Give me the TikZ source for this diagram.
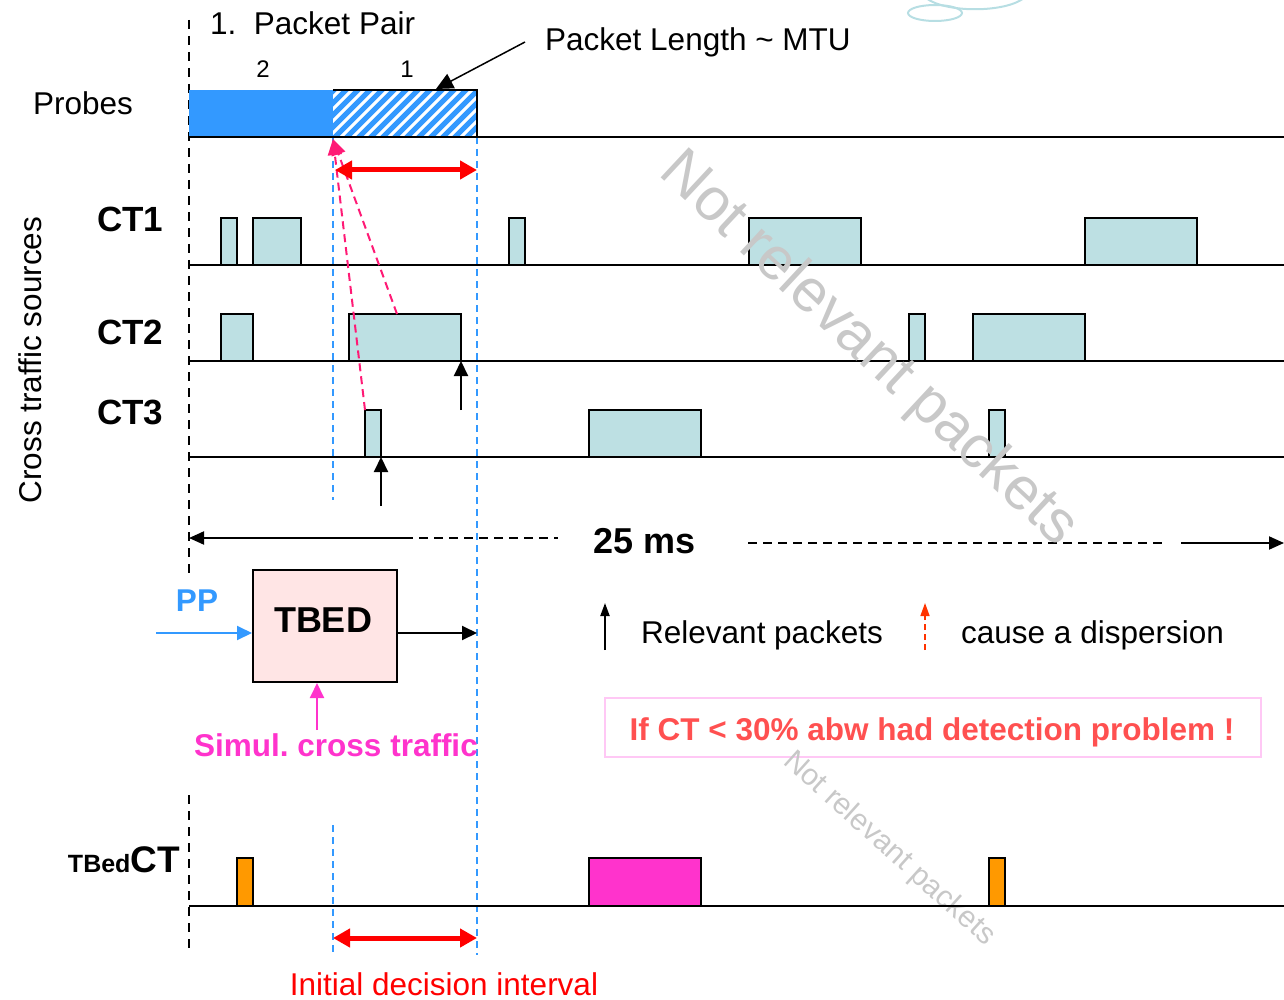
\documentclass[tikz,border=0pt]{standalone}
\usepackage{fontspec}
\setmainfont{Liberation Sans}
\usetikzlibrary{arrows.meta}
\frenchspacing

\definecolor{probeblue}{HTML}{3399FF}
\definecolor{ctfill}{HTML}{BDE0E3}
\definecolor{hotpink}{HTML}{FF1A75}
\definecolor{simul}{HTML}{FF33CC}
\definecolor{ctorange}{HTML}{FF9900}
\definecolor{tbedfill}{HTML}{FFE5E5}
\definecolor{warnred}{HTML}{FF5050}
\definecolor{warnbox}{HTML}{FFC8F5}
\definecolor{cloudline}{HTML}{B7DEE3}
\definecolor{disp}{HTML}{FF3300}
\definecolor{wmgray}{HTML}{C8C8C8}

\newcommand{\fsz}[1]{\fontsize{#1}{#1}\selectfont}

\begin{document}
\begin{tikzpicture}[x=1pt,y=-1pt,
  txt/.style={inner sep=0pt,font=\fsz{31.5}},
  boldtxt/.style={inner sep=0pt,font=\fsz{31.5}\bfseries},
  timeline/.style={draw=black,line width=2pt},
  pkt/.style={draw=black,line width=2pt,fill=ctfill},
  tbpkt/.style={draw=black,line width=2pt},
  origin/.style={draw=black,line width=2pt,dash pattern=on 9pt off 7pt},
  marker/.style={draw=probeblue,line width=2pt,dash pattern=on 7pt off 5pt},
  relarrow/.style={draw=black,line width=2pt,-{Triangle[length=15pt,width=14pt]}},
  disparrow/.style={draw=hotpink,line width=2pt,dash pattern=on 8pt off 5pt,
    -{Triangle[length=16pt,width=14pt]}},
  interval/.style={draw=red,line width=5pt,
    {Triangle[length=17pt,width=18pt]}-{Triangle[length=17pt,width=18pt]}},
  watermark/.style={inner sep=0pt,text=wmgray}]

\useasboundingbox (0,0) rectangle (1284,1000);

% fragments of a decorative cloud at the top edge
\draw[cloudline,line width=2pt] (935,13) ellipse [x radius=27, y radius=8];
\draw[cloudline,line width=2pt] (926,-2) .. controls (945,13) and (1005,13) .. (1024,-2);

% time origin and decision-interval markers
\draw[origin] (189,20) -- (189,578);
\draw[origin] (189,795) -- (189,955);
\draw[marker] (333,137) -- (333,500);
\draw[marker] (333,825) -- (333,955);
\draw[marker] (477,137) -- (477,955);

% probe packet pair
\fill[probeblue] (189,90) rectangle (333,137);
\begin{scope}
  \clip (333,90) rectangle (477,137);
  \foreach \i in {-60,-48,...,156}
    \draw[probeblue,line width=5pt] (333+\i,139) -- ++(50,-50);
\end{scope}
\draw[line width=2pt] (333,90) -- (477,90) -- (477,137);
\draw[timeline] (189,137) -- (1284,137);

\node[txt,anchor=base west] (pptitle) at (210,35) {1.\ \ Packet Pair};
\node[txt,font=\fsz{24},anchor=base] (ptwo) at (263,78) {2};
\node[txt,font=\fsz{24},anchor=base] (pone) at (407,78) {1};
\node[txt,anchor=base west] (lenlabel) at (545,51) {Packet Length \textasciitilde{} MTU};
\coordinate (lenfrom) at (525,42);
\coordinate (lentip) at (436,89);
\draw[line width=1.5pt,-{Triangle[length=17pt,width=16pt]}] (lenfrom) -- (lentip);
\node[txt,anchor=base west] (probes) at (33,115) {Probes};

% cross traffic rows
\node[txt,anchor=base,rotate=90] (ctsources) at (41,360) {Cross traffic sources};
\node[boldtxt,font=\fsz{35}\bfseries,anchor=base west] (ctone) at (97,232) {CT1};
\node[boldtxt,font=\fsz{35}\bfseries,anchor=base west] (cttwo) at (97,344) {CT2};
\node[boldtxt,font=\fsz{35}\bfseries,anchor=base west] (ctthree) at (97,424) {CT3};

\draw[pkt] (221,218) rectangle (237,265);
\draw[pkt] (253,218) rectangle (301,265);
\draw[pkt] (509,218) rectangle (525,265);
\draw[pkt] (749,218) rectangle (861,265);
\draw[pkt] (1085,218) rectangle (1197,265);
\draw[timeline] (189,265) -- (1284,265);

\draw[pkt] (221,314) rectangle (253,361);
\draw[pkt] (349,314) rectangle (461,361);
\draw[pkt] (909,314) rectangle (925,361);
\draw[pkt] (973,314) rectangle (1085,361);
\draw[timeline] (189,361) -- (1284,361);

\draw[pkt] (365,410) rectangle (381,457);
\draw[pkt] (589,410) rectangle (701,457);
\draw[pkt] (989,410) rectangle (1005,457);
\draw[timeline] (189,457) -- (1284,457);

% relevant packets and the dispersion they cause
\coordinate (ctbigend) at (461,361);
\coordinate (ctbigfoot) at (461,410);
\coordinate (ctsmallend) at (381,457);
\coordinate (ctsmallfoot) at (381,506);
\draw[relarrow] (ctbigfoot) -- (ctbigend);
\draw[relarrow] (ctsmallfoot) -- (ctsmallend);

\coordinate (pairgap) at (333,139);
\coordinate (ctbigtop) at (397,314);
\coordinate (ctsmalltop) at (365,410);
\draw[disparrow] (ctbigtop) -- (pairgap);
\draw[disparrow] (ctsmalltop) -- (pairgap);

\coordinate (displeft) at (335,170);
\coordinate (dispright) at (477,170);
\draw[interval] (displeft) -- (dispright);

% 25 ms span
\node[boldtxt,font=\fsz{36}\bfseries,anchor=base] (span) at (645,553) {25 ms};
\coordinate (spanleft) at (189,538);
\coordinate (spanlmid) at (404,538);
\coordinate (spanldash) at (558,538);
\coordinate (spanrdash) at (748,543);
\coordinate (spanrmid) at (1162,543);
\coordinate (spanrstart) at (1181,543);
\coordinate (spanright) at (1284,543);
\draw[line width=2pt,-{Triangle[length=15pt,width=13pt]}] (spanlmid) -- (spanleft);
\draw[line width=2pt,dash pattern=on 9pt off 6pt] (spanlmid) -- (spanldash);
\draw[line width=2pt,dash pattern=on 9pt off 6pt] (spanrdash) -- (spanrmid);
\draw[line width=2pt,-{Triangle[length=15pt,width=13pt]}] (spanrstart) -- (spanright);

% test-bed block
\node[draw=black,line width=2pt,fill=tbedfill,minimum width=144pt,minimum height=112pt,inner sep=0pt]
  (tbed) at (325,626) {};
\node[boldtxt,font=\fsz{36}\bfseries,anchor=base] (tbedname) at (323,632) {TBED};
\node[boldtxt,text=probeblue,anchor=base] (pp) at (197,611) {PP};
\coordinate (ppin) at (156,633);
\coordinate (tbedout) at (477,633);
\draw[probeblue,line width=2pt,-{Triangle[length=15pt,width=14pt]}] (ppin) -- (tbed.west |- ppin);
\draw[line width=2pt,-{Triangle[length=15pt,width=14pt]}] (tbed.east |- tbedout) -- (tbedout);
\node[boldtxt,text=simul,anchor=base] (simtxt) at (336,756) {Simul. cross traffic};
\coordinate (simfoot) at (317,730);
\draw[simul,line width=2pt,-{Triangle[length=15pt,width=14pt]}] (simfoot) -- (tbed.south -| simfoot);

% legend
\coordinate (legafoot) at (605,650);
\coordinate (legatip) at (605,603);
\draw[line width=2pt,-{Triangle[length=13pt,width=9pt]}] (legafoot) -- (legatip);
\node[txt,anchor=base west] (legrel) at (641,643) {Relevant packets};
\coordinate (legbfoot) at (925,650);
\coordinate (legbtip) at (925,603);
\draw[disp,line width=1.5pt,dash pattern=on 6pt off 4pt,-{Triangle[length=13pt,width=9pt]}] (legbfoot) -- (legbtip);
\node[txt,anchor=base west] (legdisp) at (961,643) {cause a dispersion};

% remark box
\draw[warnbox,line width=2pt] (605,698) rectangle (1261,757);
\node[boldtxt,text=warnred,anchor=base] (remark) at (932,740) {If CT < 30\% abw had detection problem !};

% watermarks
\node[watermark,font=\fsz{60},rotate=-43] (wmbig) at (868,350) {Not relevant packets};
\node[watermark,font=\fsz{30},rotate=-42] (wmsmall) at (889,849) {Not relevant packets};

% test-bed cross traffic row
\node[inner sep=0pt,anchor=base east] (tbedct) at (180,872)
  {\fsz{25}\bfseries TBed\fsz{37}CT};
\draw[tbpkt,fill=ctorange] (237,858) rectangle (253,906);
\draw[tbpkt,fill=simul] (589,858) rectangle (701,906);
\draw[tbpkt,fill=ctorange] (989,858) rectangle (1005,906);
\draw[timeline] (189,906) -- (1284,906);

\coordinate (initleft) at (333,938);
\coordinate (initright) at (477,938);
\draw[interval] (initleft) -- (initright);
\node[txt,text=red,anchor=base] (inittxt) at (444,995) {Initial decision interval};

\end{tikzpicture}
\end{document}
